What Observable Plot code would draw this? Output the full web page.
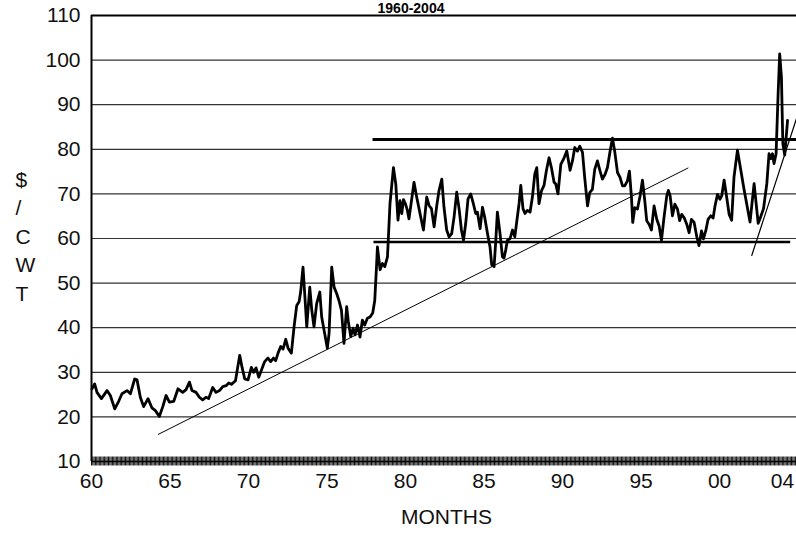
<!DOCTYPE html>
<html><head><meta charset="utf-8">
<script src="https://cdn.jsdelivr.net/npm/d3@7"></script>
<script src="https://cdn.jsdelivr.net/npm/@observablehq/plot@0.6"></script>
<style>
html,body{margin:0;padding:0;background:#fff;}
</style></head><body><div id="chart"></div>
<script>
// Monthly price ($/CWT), decimal years
const years = [
1960.03,1960.20,1960.35,1960.63,1960.99,1961.20,1961.48,1961.73,1961.94,1962.26,1962.48,1962.75,1962.90,
1963.11,1963.32,1963.60,1963.85,1964.07,1964.32,1964.54,1964.75,1964.96,1965.24,1965.51,1965.81,1966.02,
1966.24,1966.40,1966.66,1966.87,1967.08,1967.29,1967.46,1967.72,1967.93,1968.15,1968.36,1968.57,1968.74,
1968.91,1969.17,1969.31,1969.44,1969.59,1969.76,1969.97,1970.18,1970.33,1970.48,1970.65,
1971.03,1971.24,1971.41,1971.59,1971.73,1971.88,1972.05,1972.20,1972.37,1972.52,1972.73,1972.90,1973.07,
1973.22,1973.32,1973.47,1973.58,1973.71,1973.90,1974.03,1974.17,1974.34,1974.54,1974.66,1974.85,1975.02,
1975.13,1975.30,1975.45,1975.62,1975.76,1975.92,1976.08,1976.25,1976.36,1976.51,1976.66,1976.78,1976.94,
1977.10,1977.25,1977.40,1977.57,1977.74,1977.91,1978.04,1978.15,
1978.21,1978.38,1978.53,1978.68,1978.85,1979.01,1979.23,1979.38,1979.52,1979.65,1979.76,1979.87,1979.99,
1980.12,1980.22,1980.38,1980.54,1980.71,1980.86,1981.01,1981.14,1981.35,1981.50,1981.65,1981.82,1981.99,
1982.13,1982.31,1982.45,1982.62,1982.77,1982.94,1983.09,1983.26,1983.41,1983.56,1983.69,1983.83,1983.98,
1984.15,1984.32,1984.47,1984.58,1984.75,1984.90,1985.04,1985.22,1985.38,1985.49,1985.64,1985.75,1985.85,
1986.02,1986.17,1986.27,1986.38,1986.49,1986.66,1986.81,1986.96,1987.08,1987.23,1987.34,1987.48,1987.61,
1987.76,1987.93,1988.08,1988.23,1988.36,1988.50,1988.66,1988.82,1988.97,1989.14,1989.29,1989.46,1989.57,
1989.71,
1989.89,1990.10,1990.27,1990.48,1990.63,1990.78,1990.95,1991.10,1991.27,1991.41,1991.59,1991.73,1991.90,
1992.05,1992.22,1992.39,1992.54,1992.71,1992.86,1993.03,1993.18,1993.32,1993.50,1993.66,1993.82,1993.96,
1994.13,1994.26,1994.39,1994.47,1994.60,1994.77,1994.94,1995.09,1995.24,1995.36,1995.51,1995.66,1995.83,
1996.00,1996.15,1996.30,1996.46,1996.64,1996.74,1996.85,1997.00,1997.15,1997.32,1997.46,1997.59,1997.74,
1997.91,1998.06,1998.21,1998.38,1998.55,1998.69,1998.85,1998.97,1999.12,1999.27,1999.44,1999.59,1999.71,
1999.87,2000.03,2000.14,2000.29,2000.44,2000.61,
2000.77,2000.92,2001.14,2001.56,2001.94,2002.20,2002.46,2002.58,2002.80,2003.01,2003.15,2003.26,2003.37,
2003.47,2003.60,2003.73,2003.83,2003.94,2004.03,2004.15,2004.33
];
const prices = [
26.3,27.4,25.5,24.1,25.9,24.8,21.8,23.5,25.2,25.9,25.2,28.5,28.3,
24.4,22.3,24.1,22.0,21.4,20.1,22.3,24.8,23.3,23.5,26.3,25.5,26.1,
27.8,25.9,25.5,24.4,23.8,24.4,24.1,26.6,25.5,25.9,26.8,27.0,27.6,
27.3,28.1,31.1,33.8,31.1,28.5,28.3,31.1,30.0,31.0,28.9,
32.4,33.2,32.4,33.2,32.6,34.3,35.8,35.2,37.4,35.4,34.3,40.2,45.0,
45.8,48.0,53.6,47.6,40.2,49.1,43.9,40.2,45.4,48.0,42.4,38.7,35.4,
38.7,53.6,49.1,47.6,46.1,43.9,36.5,44.7,41.3,38.0,39.9,38.4,40.6,
37.9,41.7,40.6,42.1,42.4,43.3,46.1,53.6,
58.1,53.0,54.4,53.7,55.9,67.8,75.9,72.2,64.1,68.5,65.6,68.7,67.8,
66.3,64.4,68.5,72.6,69.3,66.7,64.1,61.9,69.3,67.4,66.7,62.6,67.4,
70.7,73.3,67.0,61.9,60.4,61.1,64.8,70.4,66.7,61.9,59.6,63.3,68.9,
70.0,67.8,65.6,65.9,62.2,67.0,64.8,61.1,58.1,54.1,53.7,59.6,65.9,
61.1,55.9,55.6,57.4,59.6,60.0,61.9,60.4,63.7,67.8,71.9,66.7,65.6,
66.3,65.9,69.3,74.4,75.9,67.8,70.7,71.9,75.2,78.1,75.9,72.6,72.2,
70.0,
76.6,78.1,79.6,75.3,77.4,80.4,79.6,80.7,79.3,73.7,67.3,70.3,71.0,
75.5,77.4,75.1,73.3,74.4,75.9,79.6,82.5,79.6,74.8,73.7,71.8,71.8,
72.9,75.1,69.2,63.6,66.9,66.6,69.6,73.1,68.4,64.0,63.2,61.9,67.3,
64.3,62.8,59.6,64.7,69.6,70.8,69.6,65.1,67.7,66.6,64.0,65.4,64.7,
63.2,61.3,64.3,63.6,60.4,58.4,61.7,59.9,61.7,64.3,65.1,64.6,67.3,
69.9,68.8,69.6,73.1,69.6,65.4,
64.1,73.8,79.8,71.0,63.7,72.3,63.4,64.5,66.7,72.3,79.0,77.9,79.0,
76.8,79.0,92.5,101.4,96.2,81.3,78.7,86.5
];

// Drawn lines (endpoints)
const longTrendX = [1964.26, 1997.99];
const longTrendY = [16.1, 75.8];
const steepTrendX = [2002.05, 2004.90];
const steepTrendY = [56.2, 86.9];
const resistanceX = [1977.93, 2004.90];
const resistanceLevel = 82.2;
const supportX = [1977.99, 2004.53];
const supportLevel = 59.2;

// Axes
const yTicks = [10,20,30,40,50,60,70,80,90,100,110];
const gridLevels = [20,30,40,50,60,70,80,90,100];
const xTickYears = [1960,1965,1970,1975,1980,1985,1990,1995,2000,2004];
const xTickLabels = ["60","65","70","75","80","85","90","95","00","04"];
const monthTicks = d3.range(0, 45*12).map(i => 1960 + i/12);

const title = "1960-2004";
const xTitle = "MONTHS";
const yTitle = "$\n/\nC\nW\nT";

const FONT = "'Liberation Sans Narrow','Arial Narrow','Liberation Sans',Arial,sans-serif";

const series = years.map((t, i) => ({t, v: prices[i]}));
const seg = (xs, ys) => xs.map((x, i) => ({x, y: ys[i]}));

const chart = Plot.plot({
  width: 796,
  height: 533,
  marginLeft: 91,
  marginRight: 0,
  marginTop: 15,
  marginBottom: 72,
  style: {fontFamily: FONT, fontSize: "21px", background: "white", color: "#111", overflow: "visible"},
  x: {domain: [1960, 2004.90], axis: null},
  y: {domain: [10, 110], axis: null},
  marks: [
    Plot.ruleY(gridLevels, {stroke: "#333", strokeWidth: 1.2}),
    Plot.ruleY([110], {stroke: "#000", strokeWidth: 1.8}),
    Plot.ruleX(monthTicks, {y1: 9, y2: 11, stroke: "#111", strokeWidth: 1}),
    Plot.ruleY([10], {stroke: "#000", strokeWidth: 1.5}),
    Plot.ruleX([1960], {y1: 10, y2: 110, stroke: "#000", strokeWidth: 2}),
    Plot.axisY(yTicks, {tickSize: 0, tickPadding: 11, fontSize: 21, fontFamily: FONT, fill: "#111"}),
    Plot.axisX(xTickYears, {tickSize: 0, tickPadding: 12, fontSize: 21, fontFamily: FONT, fill: "#111",
      tickFormat: d => xTickLabels[xTickYears.indexOf(d)]}),
    Plot.line(seg(longTrendX, longTrendY), {x: "x", y: "y", stroke: "#000", strokeWidth: 1}),
    Plot.line(seg(steepTrendX, steepTrendY), {x: "x", y: "y", stroke: "#000", strokeWidth: 1.2}),
    Plot.ruleY([resistanceLevel], {x1: resistanceX[0], x2: resistanceX[1], stroke: "#000", strokeWidth: 2.8}),
    Plot.ruleY([supportLevel], {x1: supportX[0], x2: supportX[1], stroke: "#000", strokeWidth: 2.6}),
    Plot.line(series, {x: "t", y: "v", stroke: "#000", strokeWidth: 2.8, strokeLinejoin: "round"}),
    Plot.text([xTitle], {frameAnchor: "bottom", dx: 2.5, dy: 56, lineAnchor: "middle", fontSize: 21, fontFamily: FONT, fill: "#111"}),
    Plot.text([yTitle], {frameAnchor: "left", dx: -76, dy: -4, lineAnchor: "middle", lineHeight: 1.36, fontSize: 21, fontFamily: FONT, fill: "#111"}),
    Plot.text([title], {frameAnchor: "top", dx: -33, dy: -3, lineAnchor: "bottom", fontSize: 14, fontWeight: "bold", fontFamily: "'Liberation Sans',Arial,sans-serif", fill: "#000"})
  ]
});
document.getElementById("chart").appendChild(chart);
</script>
</body></html>
